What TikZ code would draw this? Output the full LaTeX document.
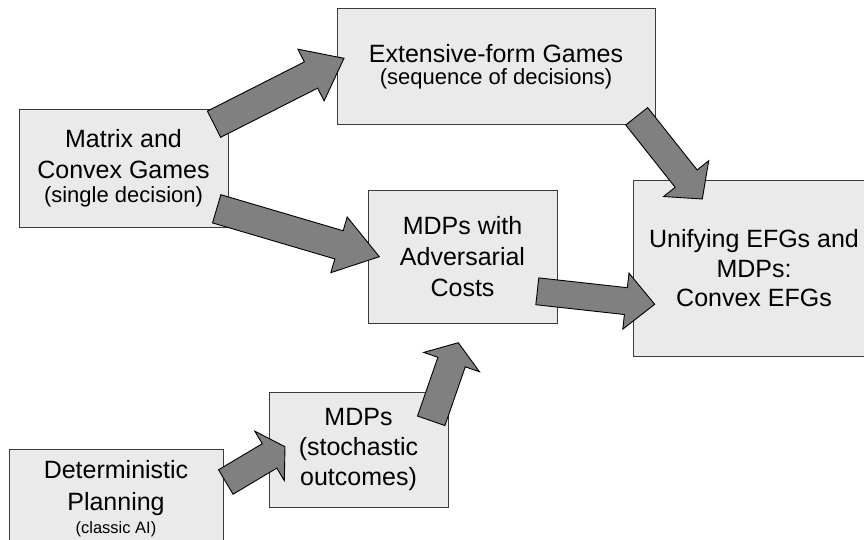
\documentclass[tikz,border=0pt]{standalone}
\usepackage{fontspec}
\setmainfont{Liberation Sans}
\usetikzlibrary{calc}

\definecolor{boxfill}{HTML}{EAEAEA}
\definecolor{boxline}{HTML}{3A3A3A}
\definecolor{arrowfill}{HTML}{808080}

% Block arrow: #1 tail centre, #2 tip, #3 half shaft width, #4 half head width, #5 head length
\newcommand\blockarrow[5]{%
  \path ($(#2)!#5!(#1)$) coordinate (ba-base);
  \filldraw[fatarrow]
    ($(#1)!#3!90:(#2)$) -- ($(ba-base)!#3!90:(#2)$) -- ($(ba-base)!#4!90:(#2)$)
    -- (#2)
    -- ($(ba-base)!#4!-90:(#2)$) -- ($(ba-base)!#3!-90:(#2)$) -- ($(#1)!#3!-90:(#2)$)
    -- cycle;
}

\tikzset{
  topic/.style={draw=boxline, fill=boxfill, line width=1pt, rectangle,
    inner sep=0pt, align=center, text=black,
    font=\fontsize{25}{31}\selectfont},
  fatarrow/.style={fill=arrowfill, draw=black, line width=0.9pt, line join=miter},
}
\newcommand\subsize{\fontsize{22}{26}\selectfont}
\newcommand\tinysize{\fontsize{16.5}{20}\selectfont}

\begin{document}
\begin{tikzpicture}[x=1pt, y=-1pt]
\useasboundingbox (0,0) rectangle (864,540);

% topic boxes
\node[topic, minimum width=209, minimum height=117] (matrix) at (123.5,168.5)
  {Matrix and\\Convex Games\\[-7pt]{\subsize (single decision)}};
\node[topic, minimum width=318, minimum height=116] (efg) at (496,67)
  {Extensive-form Games\\[-9pt]{\subsize (sequence of decisions)}};
\node[topic, minimum width=189, minimum height=132] (adv) at (462.5,257)
  {MDPs with\\Adversarial\\Costs};
\node[topic, minimum width=242, minimum height=175, font=\fontsize{25}{29.5}\selectfont] (unify) at (754,268.5)
  {Unifying EFGs and\\MDPs:\\Convex EFGs};
\node[topic, minimum width=179, minimum height=115, font=\fontsize{25}{30}\selectfont] (mdp) at (358.5,449.5)
  {MDPs\\(stochastic\\outcomes)};
\node[topic, minimum width=214, minimum height=99, font=\fontsize{25}{32.4}\selectfont] (det) at (116,498.5)
  {Deterministic\\Planning\\[-10pt]{\tinysize (classic AI)}};

% arrow end points
\coordinate (a1s) at (214,124.2);   \coordinate (a1e) at (344,58.3);
\coordinate (a2s) at (216.7,208.8); \coordinate (a2e) at (379.3,256.7);
\coordinate (a3s) at (636.7,116.3); \coordinate (a3e) at (702.3,199);
\coordinate (a4s) at (537.3,291.3); \coordinate (a4e) at (654.7,304.3);
\coordinate (a5s) at (225.8,482);   \coordinate (a5e) at (285,446.7);
\coordinate (a6s) at (431.2,420.8); \coordinate (a6e) at (458.3,342.7);

% block arrows
\blockarrow{a1s}{a1e}{14.7pt}{29pt}{37pt}
\blockarrow{a2s}{a2e}{14.7pt}{29pt}{42pt}
\blockarrow{a3s}{a3e}{14pt}{28.8pt}{26pt}
\blockarrow{a4s}{a4e}{13.5pt}{28.2pt}{29pt}
\blockarrow{a5s}{a5e}{14.2pt}{28.8pt}{18pt}
\blockarrow{a6s}{a6e}{14.5pt}{29.5pt}{20.5pt}
\end{tikzpicture}
\end{document}
